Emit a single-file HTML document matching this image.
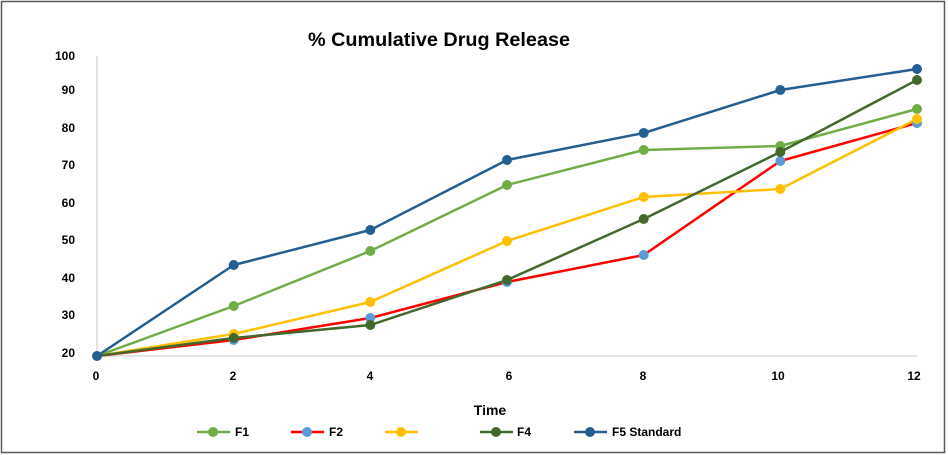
<!DOCTYPE html>
<html><head><style>
body{margin:0;background:#fff;}
svg{display:block;font-family:"Liberation Sans",sans-serif;}
</style></head><body>
<svg width="948" height="455" viewBox="0 0 948 455">
<rect x="1.5" y="1.5" width="943" height="451" fill="#fff" stroke="#595959" stroke-width="1.5"/>
<text x="439" y="46" font-size="19" font-weight="bold" text-anchor="middle" fill="#000" textLength="262" lengthAdjust="spacingAndGlyphs">% Cumulative Drug Release</text>
<line x1="97" y1="56" x2="97" y2="356" stroke="#d9d9d9" stroke-width="1.5"/>
<line x1="97" y1="356" x2="917" y2="356" stroke="#d9d9d9" stroke-width="1.5"/>
<g font-size="12" fill="#000" text-anchor="end" font-weight="bold">
<text x="75" y="60">100</text><text x="75" y="94">90</text><text x="75" y="132">80</text><text x="75" y="169">70</text><text x="75" y="207">60</text><text x="75" y="244">50</text><text x="75" y="282">40</text><text x="75" y="319">30</text><text x="75" y="357">20</text>
</g>
<g font-size="12" fill="#000" text-anchor="middle" font-weight="bold">
<text x="96" y="380">0</text><text x="233" y="380">2</text><text x="370" y="380">4</text><text x="509" y="380">6</text><text x="643" y="380">8</text><text x="778" y="380">10</text><text x="914" y="380">12</text>
</g>
<text x="490" y="415" font-size="14" text-anchor="middle" font-weight="bold">Time</text>
<g fill="none" stroke-width="2.5" stroke-linejoin="round">
<polyline stroke="#70ad47" points="97,356 233.7,306 370.3,251 507,185 643.7,150 780.3,146 917,109"/>
<polyline stroke="#ff0000" points="97,356 233.7,340 370.3,318 507,282 643.7,255 780.3,161 917,123"/>
<polyline stroke="#ffc000" points="97,356 233.7,334 370.3,302 507,241 643.7,197 780.3,189 917,119"/>
<polyline stroke="#43682b" points="97,356 233.7,338 370.3,325 507,280 643.7,219 780.3,152 917,80"/>
<polyline stroke="#255e91" points="97,356 233.7,265 370.3,230 507,160 643.7,133 780.3,90 917,69"/>
</g>
<g fill="#70ad47"><circle cx="233.7" cy="306" r="5"/><circle cx="370.3" cy="251" r="5"/><circle cx="507" cy="185" r="5"/><circle cx="643.7" cy="150" r="5"/><circle cx="780.3" cy="146" r="5"/><circle cx="917" cy="109" r="5"/></g>
<g fill="#5b9bd5"><circle cx="233.7" cy="340" r="5"/><circle cx="370.3" cy="318" r="5"/><circle cx="507" cy="282" r="5"/><circle cx="643.7" cy="255" r="5"/><circle cx="780.3" cy="161" r="5"/><circle cx="917" cy="123" r="5"/></g>
<g fill="#ffc000"><circle cx="233.7" cy="334" r="5"/><circle cx="370.3" cy="302" r="5"/><circle cx="507" cy="241" r="5"/><circle cx="643.7" cy="197" r="5"/><circle cx="780.3" cy="189" r="5"/><circle cx="917" cy="119" r="5"/></g>
<g fill="#43682b"><circle cx="233.7" cy="338" r="5"/><circle cx="370.3" cy="325" r="5"/><circle cx="507" cy="280" r="5"/><circle cx="643.7" cy="219" r="5"/><circle cx="780.3" cy="152" r="5"/><circle cx="917" cy="80" r="5"/></g>
<g fill="#255e91"><circle cx="97" cy="356" r="5"/><circle cx="233.7" cy="265" r="5"/><circle cx="370.3" cy="230" r="5"/><circle cx="507" cy="160" r="5"/><circle cx="643.7" cy="133" r="5"/><circle cx="780.3" cy="90" r="5"/><circle cx="917" cy="69" r="5"/></g>
<g stroke-width="2.5">
<line x1="197" y1="432" x2="230" y2="432" stroke="#70ad47"/><circle cx="213" cy="432" r="5" fill="#70ad47"/>
<line x1="291" y1="432" x2="324" y2="432" stroke="#ff0000"/><circle cx="307" cy="432" r="5" fill="#5b9bd5"/>
<line x1="385" y1="432" x2="418" y2="432" stroke="#ffc000"/><circle cx="401" cy="432" r="5" fill="#ffc000"/>
<line x1="480" y1="432" x2="513" y2="432" stroke="#43682b"/><circle cx="496" cy="432" r="5" fill="#43682b"/>
<line x1="574" y1="432" x2="607" y2="432" stroke="#255e91"/><circle cx="590" cy="432" r="5" fill="#255e91"/>
</g>
<g font-size="12" font-weight="bold" fill="#000">
<text x="235" y="436">F1</text><text x="329" y="436">F2</text><text x="517" y="436">F4</text><text x="612" y="436">F5  Standard</text>
</g>
</svg>
</body></html>
